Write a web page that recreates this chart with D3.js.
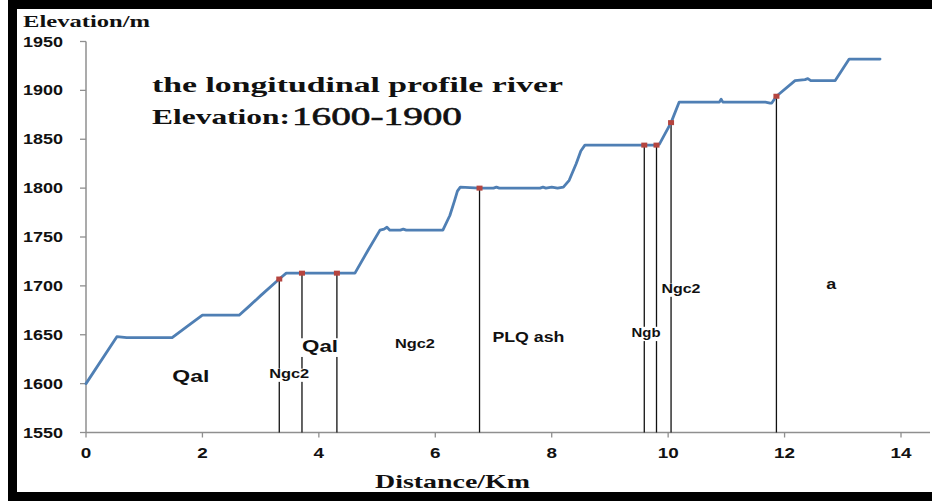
<!DOCTYPE html>
<html><head><meta charset="utf-8">
<script src="https://cdn.jsdelivr.net/npm/d3@7"></script>
<style>html,body{margin:0;padding:0;background:#fff;}svg{display:block;}</style>
</head><body>
<svg id="chart" width="932" height="501"></svg>
<script>
// ---- data ----
const profileDistance = [0,0.53,0.7,1.0,1.48,1.75,2.0,2.3,2.63,2.8,3.0,3.32,3.44,3.71,4.0,4.31,4.62,4.85,5.05,5.12,5.17,5.22,5.4,5.45,5.5,6.13,6.25,6.33,6.38,6.43,6.76,7.0,7.05,7.1,7.5,7.8,7.85,7.9,8.0,8.1,8.2,8.3,8.42,8.5,8.57,9.0,9.59,9.8,9.85,10.05,10.19,10.5,10.88,10.91,10.94,11.3,11.67,11.75,11.78,11.86,12.18,12.35,12.4,12.45,12.87,13.11,13.64];
const profileElevation = [1600,1648,1647,1647,1647,1659,1670,1670,1670,1679,1690,1707,1713,1713,1713,1713,1713,1737,1757,1758,1760,1757,1757,1758,1757,1757,1772,1787,1797,1801,1800,1800,1801,1800,1800,1800,1801,1800,1801,1800,1801,1808,1825,1838,1844,1844,1844,1844,1845,1867,1888,1888,1888,1891,1888,1888,1888,1887,1887,1894,1910,1911,1912,1910,1910,1932,1932];
const markerDistance = [3.32,3.71,4.31,6.76,9.59,9.80,10.05,11.86];
const markerElevation = [1707,1713,1713,1800,1844,1844,1867,1894];
const xTicks = [0,2,4,6,8,10,12,14];
const yTicks = [1550,1600,1650,1700,1750,1800,1850,1900,1950];
const unitLabels = ["Qal","Ngc2","Qal","Ngc2","PLQ ash","Ngb","Ngc2","a"];
const unitDistance = [1.8,3.49,4.02,5.65,7.6,9.62,10.22,12.8];
const unitElevation = [1601.5,1605.5,1632.5,1636.5,1642.5,1647.5,1692.5,1697];

// ---- layout ----
const svg = d3.select("#chart");
const x = d3.scaleLinear().domain([0,14]).range([86,901]);
const y = d3.scaleLinear().domain([1550,1950]).range([432.5,41.5]);
const axisColor = "#8f8f8f";
const sans = "'Liberation Sans', Arial, sans-serif";
const serif = "'Liberation Serif', 'Times New Roman', serif";

svg.append("rect").attr("width",932).attr("height",501).attr("fill","#fff");

function txt(g, s, xx, yy, o){
  const t = g.append("text").attr("x",xx).attr("y",yy).text(s)
    .attr("font-family",o.family).attr("font-size",o.size)
    .attr("font-weight",o.weight||"bold").attr("fill",o.fill||"#111")
    .attr("text-anchor",o.anchor||"start");
  if(o.w){ t.attr("textLength",o.w).attr("lengthAdjust","spacingAndGlyphs"); }
  if(o.stroke){ t.attr("stroke",o.fill||"#111").attr("stroke-width",o.stroke); }
  return t;
}

// axes
const yAxis = svg.append("g");
yAxis.append("line").attr("x1",x(0)).attr("x2",x(0)).attr("y1",y(1950)).attr("y2",y(1550))
  .attr("stroke",axisColor).attr("stroke-width",1.5);
yAxis.selectAll("line.tk").data(yTicks).join("line").attr("class","tk")
  .attr("x1",x(0)-6).attr("x2",x(0)).attr("y1",d=>y(d)).attr("y2",d=>y(d))
  .attr("stroke",axisColor).attr("stroke-width",1.3);
yTicks.forEach(d=>{
  txt(yAxis, String(d), 63, y(d)+5, {family:sans,size:14,anchor:"end",w:40});
});
const xAxis = svg.append("g");
xAxis.append("line").attr("x1",x(0)).attr("x2",930).attr("y1",y(1550)).attr("y2",y(1550))
  .attr("stroke",axisColor).attr("stroke-width",1.5);
xAxis.selectAll("line.tk").data(xTicks).join("line").attr("class","tk")
  .attr("x1",d=>x(d)).attr("x2",d=>x(d)).attr("y1",y(1550)).attr("y2",y(1550)+5)
  .attr("stroke",axisColor).attr("stroke-width",1.3);
xTicks.forEach(d=>{
  const s=String(d);
  txt(xAxis, s, x(d), 458, {family:sans,size:14,anchor:"middle",w:s.length*10.5});
});

// vertical lines from markers
const vg = svg.append("g");
markerDistance.forEach((d,i)=>{
  vg.append("line").attr("x1",x(d)).attr("x2",x(d)).attr("y1",y(markerElevation[i])).attr("y2",y(1550))
    .attr("stroke","#111").attr("stroke-width",1.3);
});

// profile line
const line = d3.line().x((d,i)=>x(profileDistance[i])).y((d,i)=>y(profileElevation[i]));
svg.append("path").datum(profileElevation).attr("d",line)
  .attr("fill","none").attr("stroke","#4f7fb4").attr("stroke-width",2.8)
  .attr("stroke-linejoin","round").attr("stroke-linecap","round");

// markers
markerDistance.forEach((d,i)=>{
  svg.append("rect").attr("x",x(d)-3).attr("y",y(markerElevation[i])-2.5)
    .attr("width",6).attr("height",5).attr("fill","#b5453f");
});

// unit labels with white background
const unitSize = [16,12,17,12,14,13,12,14];
const unitW = [37,40,36,40,72,29,39,10];
unitLabels.forEach((s,i)=>{
  const cx = x(unitDistance[i]), cy = y(unitElevation[i]);
  const fs = unitSize[i];
  svg.append("rect").attr("x",cx-unitW[i]/2-2).attr("y",cy-fs*0.8).attr("width",unitW[i]+4).attr("height",fs*1.1).attr("fill","#fff");
  txt(svg, s, cx, cy, {family:sans,size:fs,anchor:"middle",w:unitW[i]});
});

// titles
txt(svg, "Elevation/m", 23, 27, {family:serif,size:16,w:127});
txt(svg, "Distance/Km", 375, 488, {family:serif,size:19,w:155});
txt(svg, "the longitudinal profile river", 152, 92, {family:serif,size:21,w:411});
txt(svg, "Elevation:", 152, 124, {family:serif,size:22,w:138});
txt(svg, "1600-1900", 292, 125, {family:serif,size:26,weight:"normal",w:170,stroke:0.6});

// frame
svg.append("rect").attr("x",8).attr("y",0).attr("width",924).attr("height",9).attr("fill","#000");
svg.append("rect").attr("x",8).attr("y",0).attr("width",9).attr("height",501).attr("fill","#000");
svg.append("rect").attr("x",8).attr("y",492).attr("width",924).attr("height",9).attr("fill","#000");
</script>
</body></html>
